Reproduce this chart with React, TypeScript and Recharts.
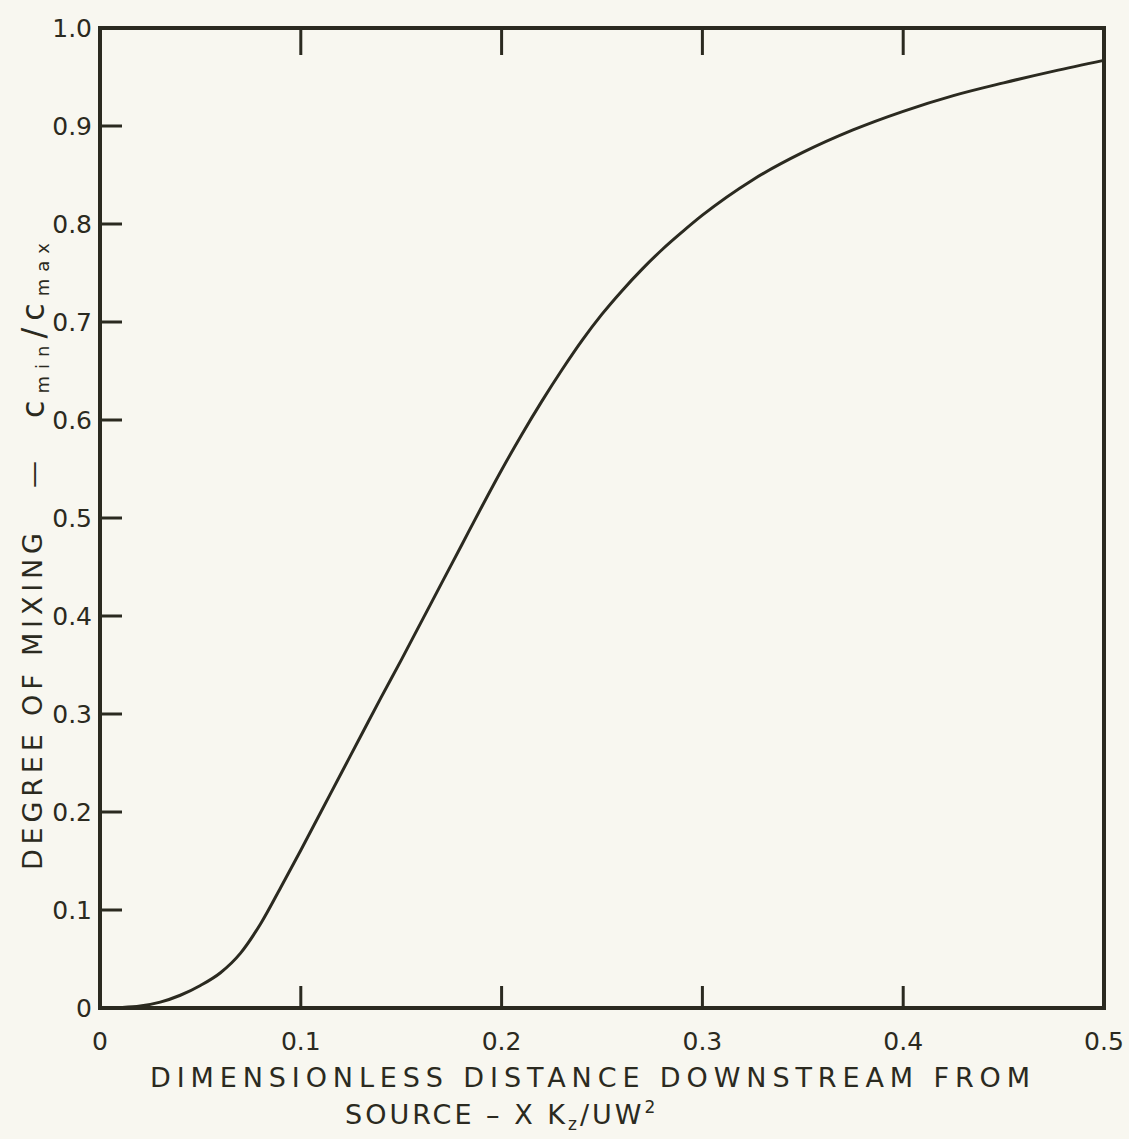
import { Line, LineChart, XAxis, YAxis } from 'recharts';

// distance downstream (x K_z / U W^2) and degree of mixing (c_min / c_max)
const distance = [
  0, 0.01, 0.02, 0.03, 0.04, 0.05, 0.06, 0.07, 0.08, 0.09, 0.1, 0.11, 0.12,
  0.13, 0.14, 0.15, 0.16, 0.17, 0.18, 0.19, 0.2, 0.21, 0.22, 0.23, 0.24, 0.25,
  0.26, 0.27, 0.28, 0.29, 0.3, 0.325, 0.35, 0.375, 0.4, 0.425, 0.45, 0.475,
  0.5,
];
const mixing = [
  0, 0.0005, 0.002, 0.006, 0.013, 0.023, 0.036, 0.056, 0.086, 0.123, 0.161,
  0.2, 0.239, 0.278, 0.317, 0.355, 0.394, 0.433, 0.472, 0.511, 0.549, 0.585,
  0.619, 0.651, 0.681, 0.708, 0.732, 0.754, 0.774, 0.792, 0.809, 0.845, 0.873,
  0.896, 0.915, 0.931, 0.944, 0.956, 0.967,
];

const xTicks = [0, 0.1, 0.2, 0.3, 0.4, 0.5];
const xTickLabels = ['0', '0.1', '0.2', '0.3', '0.4', '0.5'];
const yTicks = [0, 0.1, 0.2, 0.3, 0.4, 0.5, 0.6, 0.7, 0.8, 0.9, 1.0];
const yTickLabels = ['0', '0.1', '0.2', '0.3', '0.4', '0.5', '0.6', '0.7', '0.8', '0.9', '1.0'];
const innerXTicks = [0.1, 0.2, 0.3, 0.4];
const innerYTicks = [0.1, 0.2, 0.3, 0.4, 0.5, 0.6, 0.7, 0.8, 0.9];

const INK = '#2b2a20';
const PAPER = '#f8f7f0';
const FONT = '"DejaVu Sans", sans-serif';

const data = distance.map((x, i) => ({ x, mix: mixing[i] }));

function XTitle() {
  return (
    <g fill={INK} fontFamily={FONT}>
      <text x={150} y={1087} fontSize={27} textLength={880} lengthAdjust="spacing">
        DIMENSIONLESS DISTANCE DOWNSTREAM FROM
      </text>
      <text x={345} y={1124} fontSize={27} letterSpacing={3}>
        SOURCE – X K
        <tspan fontSize={17} dy={6}>z</tspan>
        <tspan dy={-6}>/UW</tspan>
        <tspan fontSize={17} dy={-11}>2</tspan>
      </text>
    </g>
  );
}

function YTitle() {
  return (
    <g fill={INK} fontFamily={FONT}>
      <text
        transform="rotate(-90, 42, 870)"
        x={42}
        y={870}
        fontSize={27}
        textLength={337}
        lengthAdjust="spacing"
      >
        DEGREE OF MIXING
      </text>
      <text transform="rotate(-90, 42, 488)" x={42} y={488} fontSize={27}>
        —
      </text>
      <text
        transform="rotate(-90, 44, 418)"
        x={44}
        y={418}
        fontSize={32}
        textLength={175}
        lengthAdjust="spacing"
      >
        c
        <tspan fontSize={18} dy={5}>min</tspan>
        <tspan dy={-5}>/</tspan>
        <tspan>c</tspan>
        <tspan fontSize={18} dy={5}>max</tspan>
      </text>
    </g>
  );
}

export default function App() {
  const axisLine = { stroke: INK, strokeWidth: 4, strokeLinecap: 'square' as const };
  const tickLine = { stroke: INK, strokeWidth: 3 };
  const tickStyle = { fill: INK, fontSize: 25, fontFamily: FONT };

  return (
    <div style={{ position: 'absolute', left: 0, top: 0, width: 1129, height: 1139, background: PAPER }}>
      <LineChart width={1129} height={1139} data={data} margin={{ top: 0, right: 0, bottom: 0, left: 0 }}>
        <XAxis
          xAxisId="bottom"
          dataKey="x"
          type="number"
          domain={[0, 0.5]}
          ticks={xTicks}
          height={131}
          axisLine={axisLine}
          tickLine={tickLine}
          tickSize={-22}
          tickMargin={46}
          tick={tickStyle}
          tickFormatter={(_v: number, i: number) => xTickLabels[i]}
          interval={0}
          label={<XTitle />}
        />
        <XAxis
          xAxisId="top"
          orientation="top"
          dataKey="x"
          type="number"
          domain={[0, 0.5]}
          ticks={innerXTicks}
          height={28}
          axisLine={axisLine}
          tickLine={tickLine}
          tickSize={-27}
          tickFormatter={() => ''}
          interval={0}
        />
        <YAxis
          yAxisId="left"
          type="number"
          domain={[0, 1]}
          ticks={yTicks}
          width={100}
          axisLine={axisLine}
          tickLine={tickLine}
          tickSize={-22}
          tickMargin={30}
          tick={tickStyle}
          tickFormatter={(_v: number, i: number) => yTickLabels[i]}
          interval={0}
          label={<YTitle />}
        />
        <YAxis
          yAxisId="right"
          orientation="right"
          type="number"
          domain={[0, 1]}
          ticks={innerYTicks}
          width={25}
          axisLine={axisLine}
          tickLine={tickLine}
          tickSize={-22}
          tickFormatter={() => ''}
          interval={0}
        />
        <Line
          xAxisId="bottom"
          yAxisId="left"
          type="monotone"
          dataKey="mix"
          stroke={INK}
          strokeWidth={3}
          dot={false}
          isAnimationActive={false}
        />
      </LineChart>
    </div>
  );
}
